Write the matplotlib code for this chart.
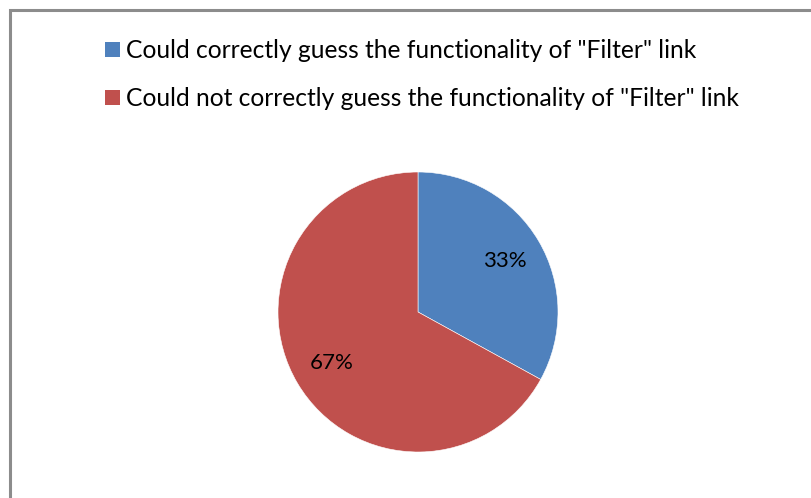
import matplotlib.pyplot as plt
from matplotlib.patches import Rectangle, Patch

labels = ['Could correctly guess the functionality of "Filter" link',
          'Could not correctly guess the functionality of "Filter" link']
shares = [33, 67]
colors = ['#4F81BD', '#C0504D']

plt.rcParams['font.family'] = ['Lato', 'DejaVu Sans']

W, H = 812, 498
fig = plt.figure(figsize=(W / 100, H / 100), dpi=100)

# chart area border (runs off the right and bottom edges)
fig.patches.append(Rectangle((10.5 / W, -0.1), 1.2, (H - 10.5) / H + 0.1,
                             transform=fig.transFigure, fill=False,
                             edgecolor='#8c8c8c', linewidth=2.2, zorder=0))

# pie: centre at (418, 312) px, radius 140 px
cx, cy, r = 418, H - 312, 140
ax = fig.add_axes([(cx - r) / W, (cy - r) / H, 2 * r / W, 2 * r / H])
wedges, _, autotexts = ax.pie(shares, colors=colors, startangle=90, counterclock=False,
                              autopct='%d%%', pctdistance=0.72, radius=1,
                              wedgeprops=dict(edgecolor='white', linewidth=0.4),
                              textprops=dict(fontsize=16, color='black'))
ax.set_xlim(-1, 1)
ax.set_ylim(-1, 1)
ax.set_aspect('equal')
ax.axis('off')

handles = [Patch(facecolor=c, edgecolor='none') for c in colors]
fig.legend(handles, labels, loc='upper left', bbox_to_anchor=(105 / W, 1 - 39 / H),
           frameon=False, fontsize=17.7, handlelength=0.6, handleheight=0.6,
           handletextpad=0.26, labelspacing=1.03, borderpad=0, borderaxespad=0)

fig.savefig('out.png', dpi=100)
